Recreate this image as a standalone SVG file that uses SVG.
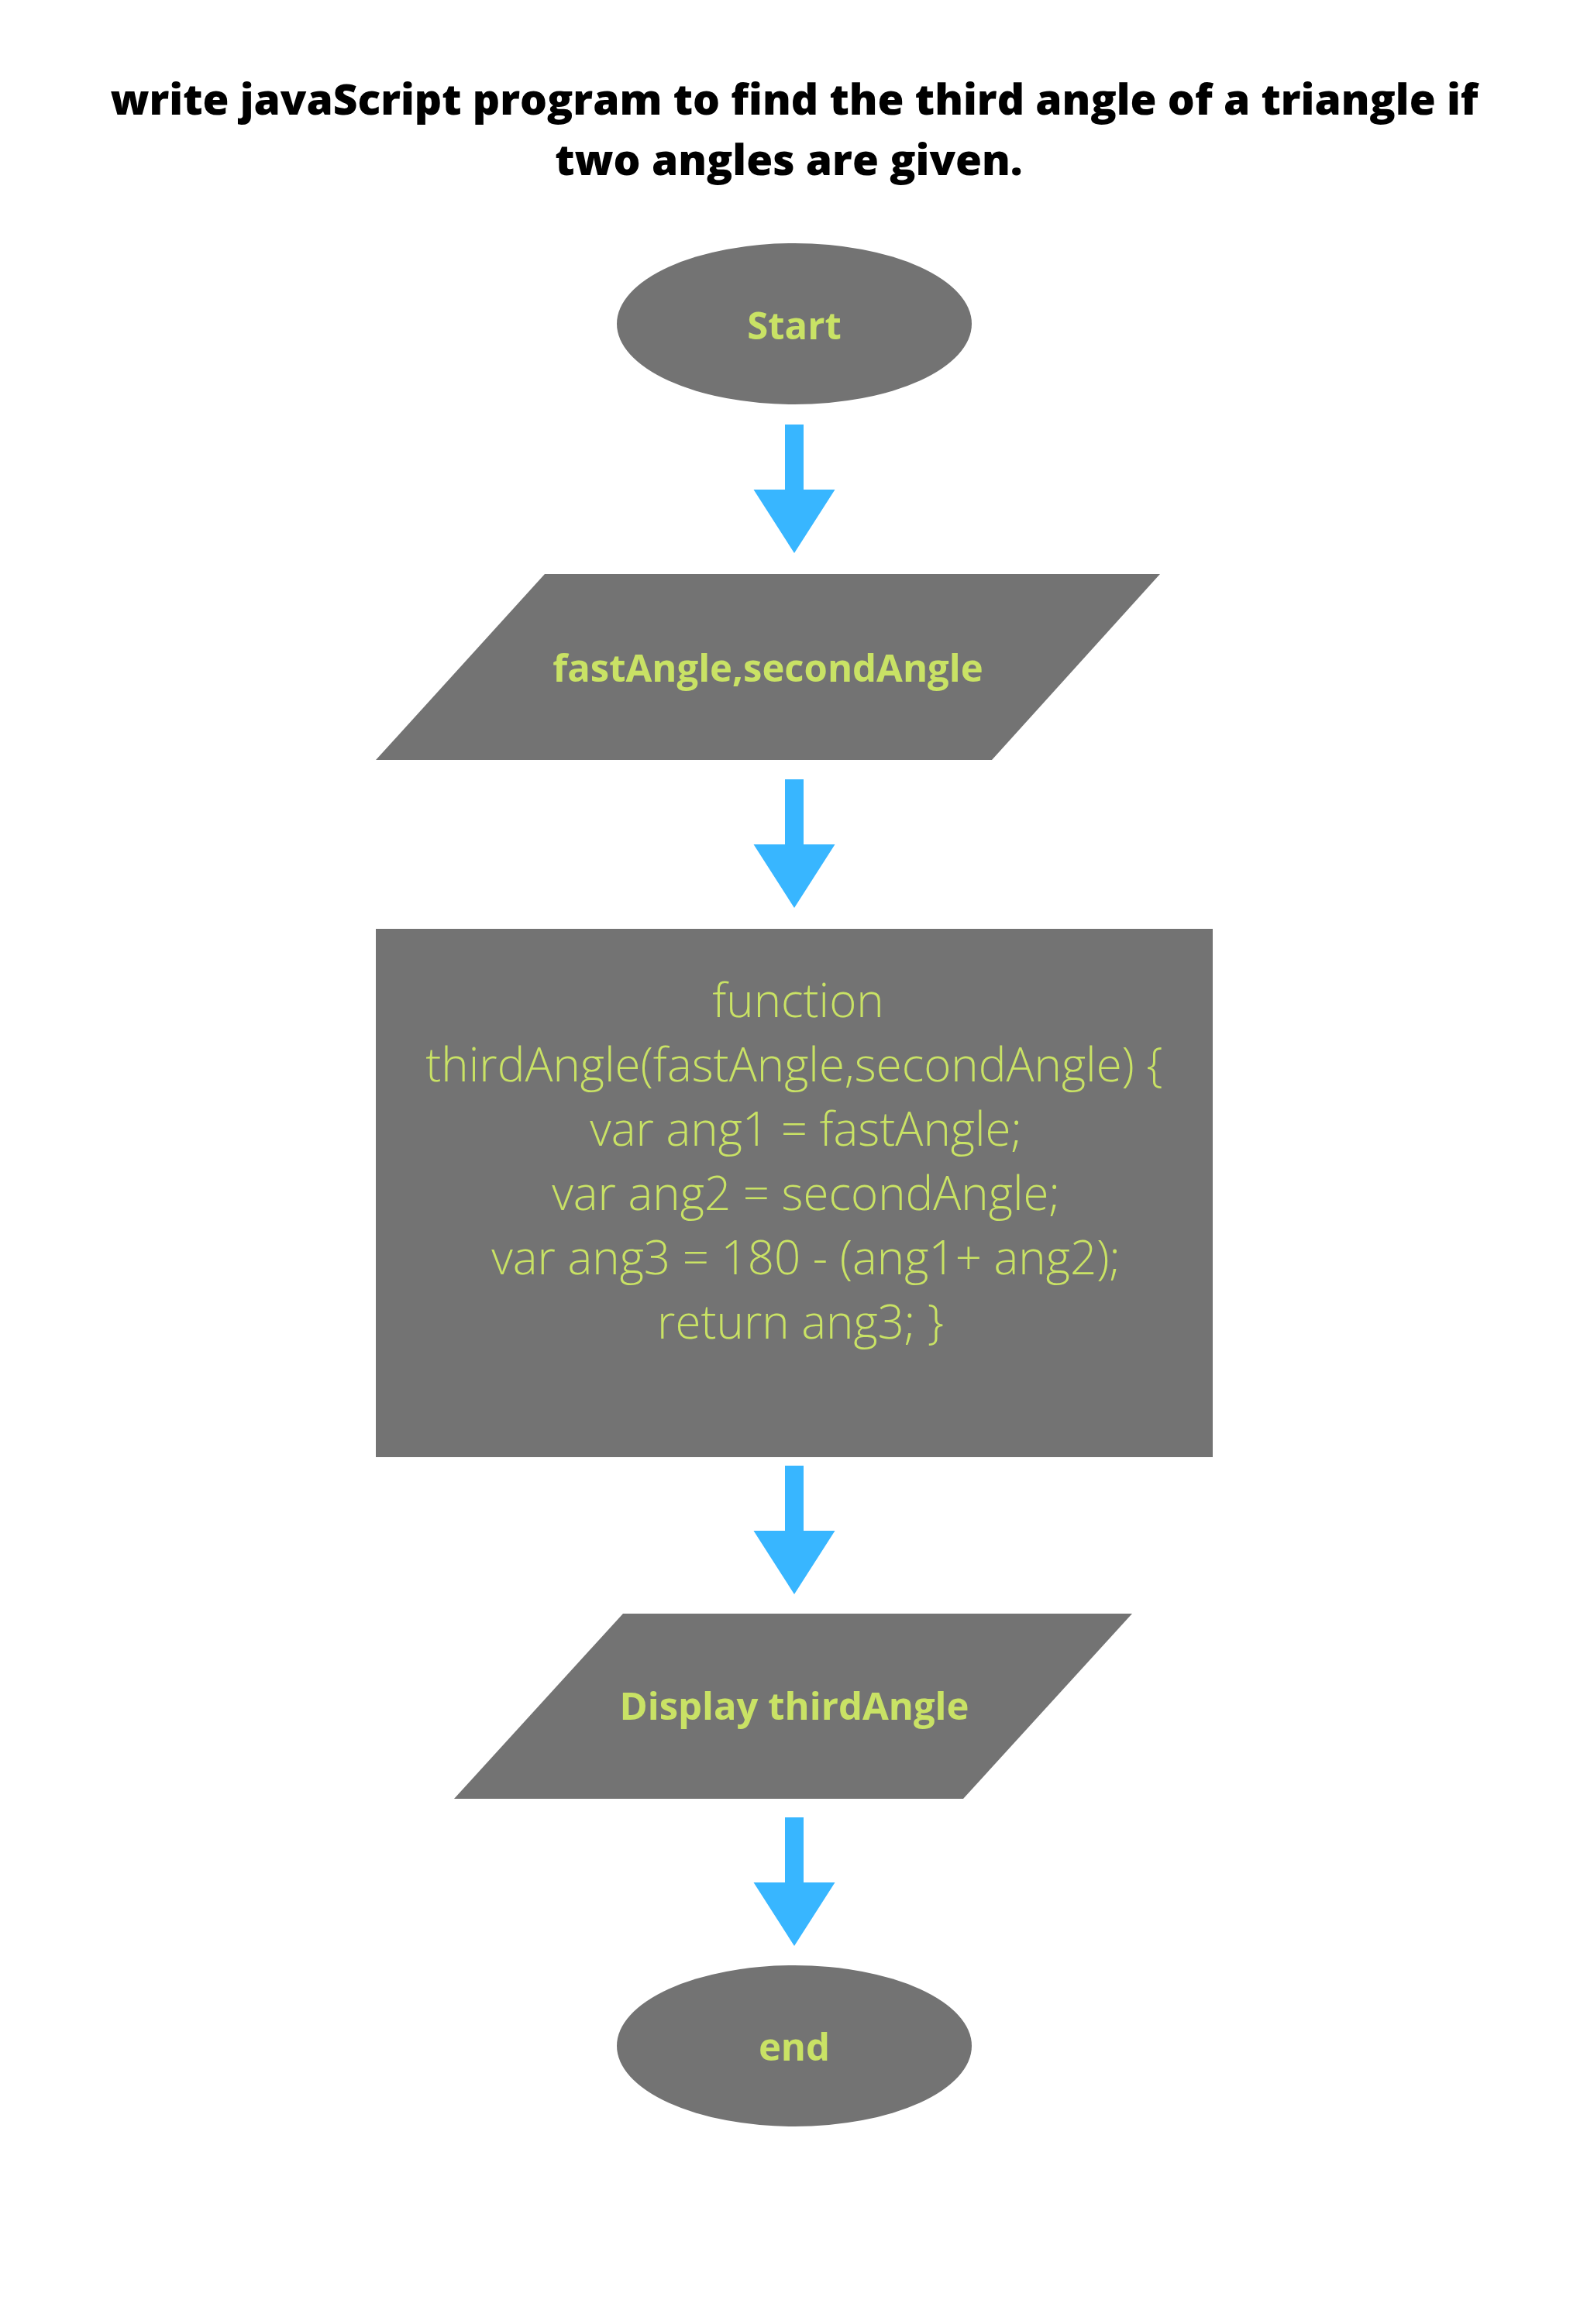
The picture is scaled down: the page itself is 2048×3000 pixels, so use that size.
<svg xmlns="http://www.w3.org/2000/svg" width="2048" height="3000" viewBox="0 0 2048 3000">
<style>
.shape{fill:#737373}
.arrow{fill:#38b6ff}
.title{font-family:"Open Sans","Liberation Sans",sans-serif;font-weight:800;font-size:55px;fill:#000;text-anchor:middle}
.lbl{font-family:"Open Sans","Liberation Sans",sans-serif;font-weight:700;font-size:49px;fill:#c9e265;text-anchor:middle}
.code{font-family:"Open Sans","Liberation Sans",sans-serif;font-weight:300;font-size:60px;fill:#c9e265;text-anchor:middle}
</style>
<defs>
<path id="arr" d="M-12 0 H12 V84 H52.5 L0 166 L-52.5 84 H-12 Z"/>
</defs>
<rect width="2048" height="3000" fill="#fff"/>
<g id="title">
<text class="title" x="1025" y="148">write javaScript program to find the third angle of a triangle if</text>
<text class="title" x="1018" y="226">two angles are given.</text>
</g>
<g id="connectors">
<use href="#arr" class="arrow" x="1025" y="548"/>
<use href="#arr" class="arrow" x="1025" y="1006"/>
<use href="#arr" class="arrow" x="1025" y="1892"/>
<use href="#arr" class="arrow" x="1025" y="2346"/>
</g>
<g id="start">
<ellipse class="shape" cx="1025" cy="418" rx="229" ry="104"/>
<text class="lbl" x="1025" y="438">Start</text>
</g>
<g id="input">
<polygon class="shape" points="703,741 1497,741 1280,981 485,981"/>
<text class="lbl" x="991" y="880">fastAngle,secondAngle</text>
</g>
<g id="process">
<rect class="shape" x="485" y="1199" width="1080" height="682"/>
<text class="code" x="1030" y="1313">function</text>
<text class="code" x="1025" y="1396">thirdAngle(fastAngle,secondAngle) {</text>
<text class="code" x="1040" y="1479">var ang1 = fastAngle;</text>
<text class="code" x="1040" y="1562">var ang2 = secondAngle;</text>
<text class="code" x="1040" y="1645">var ang3 = 180 - (ang1+ ang2);</text>
<text class="code" x="1033" y="1728">return ang3; }</text>
</g>
<g id="output">
<polygon class="shape" points="804,2083 1461,2083 1243,2322 586,2322"/>
<text class="lbl" x="1025" y="2220">Display thirdAngle</text>
</g>
<g id="end">
<ellipse class="shape" cx="1025" cy="2641" rx="229" ry="104"/>
<text class="lbl" x="1025" y="2660">end</text>
</g>
</svg>
